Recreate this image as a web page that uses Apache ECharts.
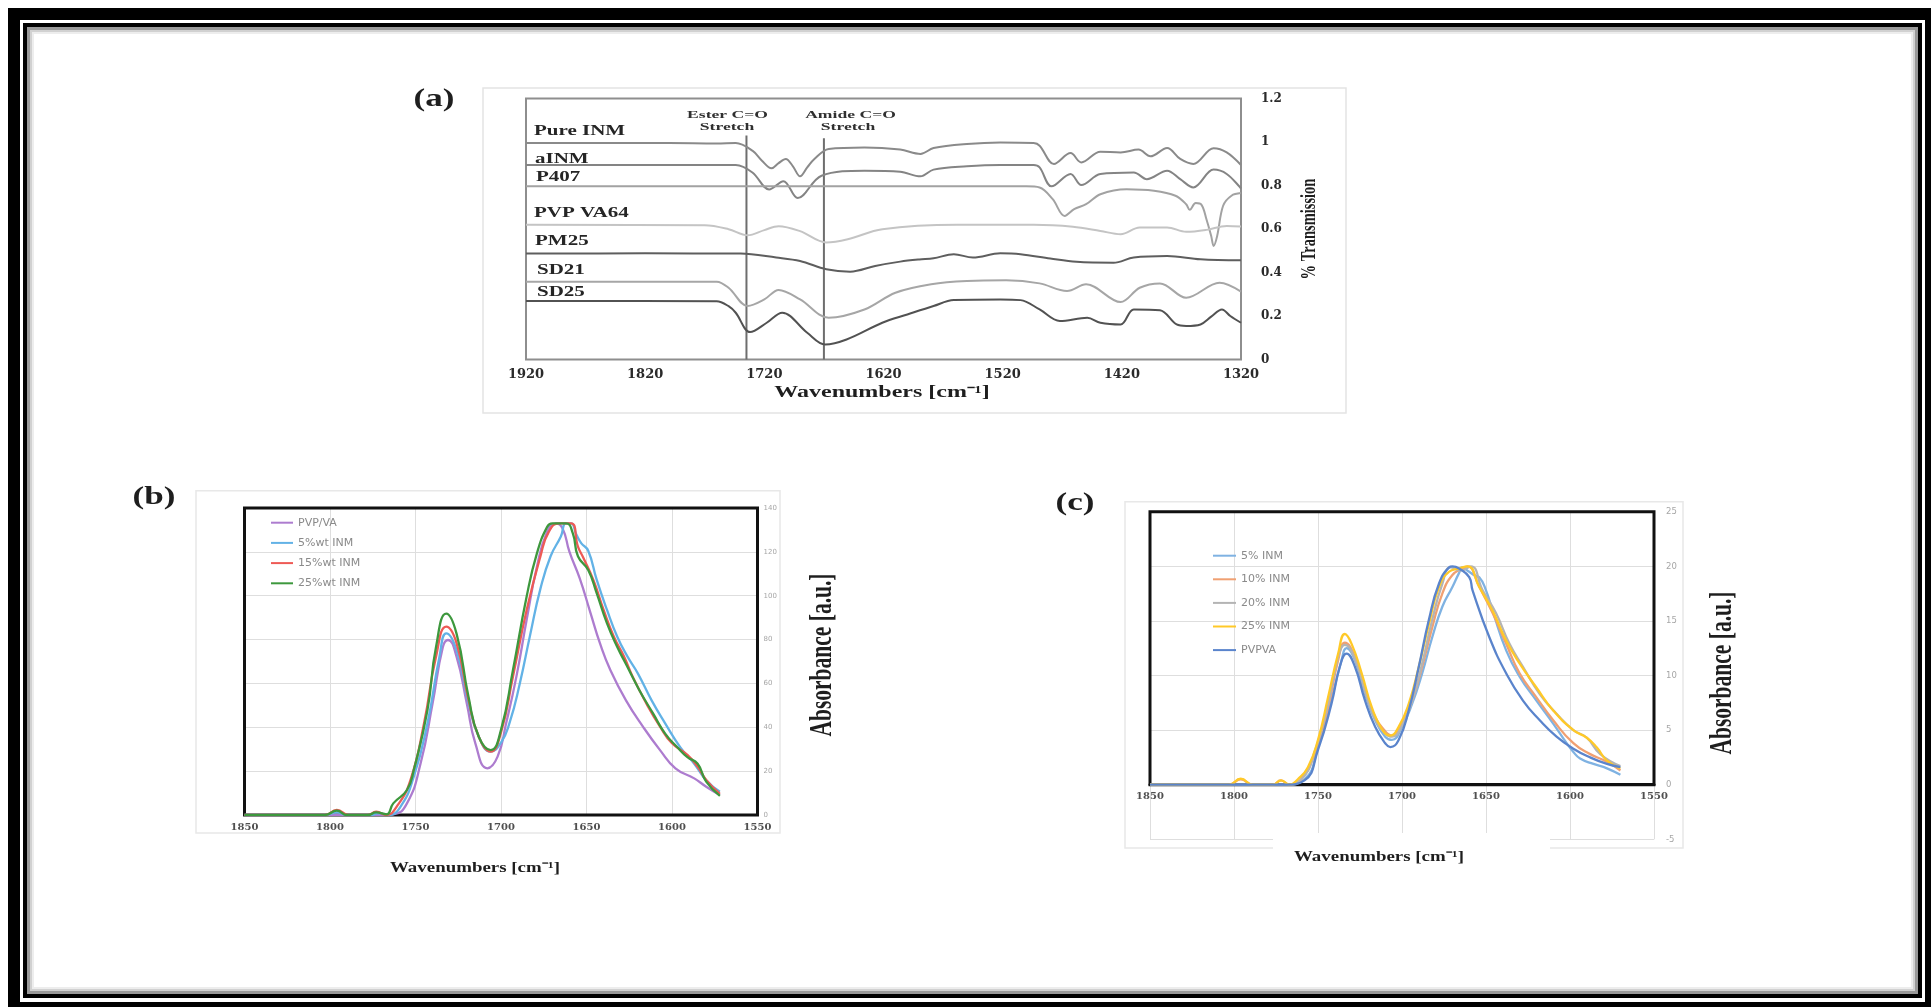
<!DOCTYPE html>
<html>
<head>
<meta charset="utf-8">
<script src="https://cdn.jsdelivr.net/npm/echarts@6/dist/echarts.min.js"></script>
<style>
  html, body { margin: 0; padding: 0; background: #ffffff; }
  #chart { width: 1931px; height: 1007px; }
</style>
</head>
<body>
<div id="chart"></div>
<script>
// ---------- (a) FTIR % transmission traces, [wavenumber cm-1, transmission] ----------
const pureINM = [[1920,0.995],[1800,0.995],[1760,0.993],[1744,0.995],[1730,0.96],[1722,0.914],[1714,0.879],[1708,0.903],[1702,0.922],[1696,0.888],[1690,0.842],[1684,0.883],[1678,0.922],[1666,0.968],[1636,0.975],[1606,0.965],[1589,0.945],[1578,0.972],[1550,0.991],[1522,0.998],[1494,0.995],[1489,0.983],[1477,0.899],[1463,0.949],[1454,0.906],[1438,0.955],[1421,0.952],[1406,0.965],[1396,0.934],[1382,0.972],[1371,0.922],[1360,0.899],[1343,0.971],[1332,0.952],[1320,0.894]];
const aINM = [[1920,0.894],[1744,0.894],[1730,0.86],[1716,0.782],[1704,0.82],[1692,0.742],[1672,0.845],[1636,0.868],[1606,0.863],[1589,0.842],[1578,0.873],[1550,0.888],[1522,0.894],[1494,0.894],[1489,0.883],[1479,0.796],[1463,0.853],[1454,0.802],[1438,0.853],[1410,0.86],[1399,0.829],[1382,0.868],[1371,0.829],[1360,0.791],[1343,0.873],[1332,0.853],[1320,0.786]];
const p407 = [[1920,0.796],[1500,0.796],[1489,0.791],[1478,0.737],[1468,0.66],[1460,0.691],[1450,0.714],[1438,0.76],[1416,0.783],[1393,0.776],[1375,0.753],[1366,0.714],[1363,0.688],[1358,0.719],[1353,0.71],[1349,0.645],[1345,0.568],[1343,0.522],[1340,0.568],[1335,0.707],[1328,0.753],[1320,0.765]];
const pvpVA64 = [[1920,0.619],[1770,0.617],[1750,0.599],[1734,0.571],[1720,0.595],[1708,0.613],[1690,0.59],[1668,0.538],[1650,0.553],[1621,0.599],[1558,0.619],[1494,0.619],[1461,0.61],[1438,0.591],[1421,0.576],[1405,0.607],[1382,0.607],[1366,0.587],[1349,0.596],[1332,0.614],[1320,0.611]];
const pm25 = [[1920,0.487],[1820,0.488],[1740,0.487],[1710,0.469],[1690,0.453],[1668,0.415],[1648,0.404],[1627,0.43],[1606,0.45],[1590,0.46],[1578,0.465],[1561,0.484],[1545,0.469],[1522,0.488],[1505,0.484],[1480,0.464],[1458,0.449],[1427,0.445],[1410,0.469],[1382,0.476],[1354,0.461],[1320,0.456]];
const sd21 = [[1920,0.358],[1760,0.358],[1750,0.33],[1734,0.246],[1720,0.276],[1708,0.32],[1690,0.276],[1666,0.192],[1636,0.23],[1610,0.307],[1580,0.346],[1550,0.361],[1517,0.364],[1489,0.35],[1466,0.315],[1450,0.346],[1421,0.264],[1405,0.33],[1388,0.35],[1366,0.284],[1338,0.353],[1320,0.312]];
const sd25 = [[1920,0.269],[1760,0.268],[1750,0.245],[1744,0.215],[1732,0.126],[1718,0.169],[1705,0.215],[1684,0.123],[1669,0.069],[1651,0.092],[1621,0.169],[1600,0.207],[1578,0.246],[1561,0.273],[1522,0.276],[1505,0.273],[1489,0.23],[1472,0.177],[1449,0.192],[1438,0.169],[1421,0.161],[1410,0.23],[1388,0.226],[1374,0.161],[1366,0.154],[1354,0.161],[1345,0.197],[1336,0.23],[1329,0.2],[1320,0.169]];
const namesA = ['Pure INM', 'aINM', 'P407', 'PVP VA64', 'PM25', 'SD21', 'SD25'];
const esterBand = [[1735, 0], [1735, 1.03]];
const amideBand = [[1670, 0], [1670, 1.017]];

// ---------- (b) absorbance, [wavenumber cm-1, absorbance] ----------
const namesB = ['PVP/VA', '5%wt INM', '15%wt INM', '25%wt INM'];
const bPVPVA = [[1850,0],[1800,0],[1770,0],[1763,0.3],[1755,5.3],[1747,23.6],[1740,50.9],[1734,76.6],[1731,79.8],[1726,72.2],[1720,50.9],[1715,32.7],[1708,21.3],[1702,26.6],[1697,41.8],[1691,63.1],[1685,89],[1679,113.2],[1673,129.2],[1668,133],[1664,130.7],[1660,120.1],[1654,108],[1648,93],[1642,78],[1636,66],[1627,52.4],[1617,40.3],[1607,29.6],[1598,21.3],[1587,16.7],[1580,12.9],[1572,9.1]];
const b5wt = [[1850,0],[1803,0],[1796,1.2],[1790,0],[1776,0],[1772,0.8],[1766,0],[1759,3.5],[1751,17.5],[1743,41.8],[1736,72.2],[1732,82.8],[1726,75.2],[1719,50.9],[1713,35.7],[1706,28.9],[1700,33],[1695,42],[1689,60],[1683,82],[1677,103],[1671,118],[1665,127],[1662,133],[1659,133],[1656,128],[1653,123.9],[1649,120.5],[1644,107.2],[1638,93.5],[1632,81.3],[1626,72.2],[1620,64.6],[1612,52.4],[1604,41.8],[1595,30.7],[1587,23.4],[1580,15.8],[1572,10.6]];
const b15wt = [[1850,0],[1803,0],[1796,2.3],[1789,0],[1778,0],[1773,1.5],[1767,0],[1761,3.8],[1753,15.8],[1745,41.8],[1738,72.2],[1732,85.9],[1726,78.4],[1719,52.4],[1713,35.7],[1706,28.9],[1700,37.7],[1693,63.1],[1685,93.5],[1677,117.8],[1672,129.2],[1666,133],[1659,133],[1655,122.4],[1652,117.5],[1646,107.2],[1640,93.5],[1634,81.3],[1628,72.2],[1623,63.1],[1615,50.9],[1607,40.3],[1600,32.7],[1591,27.4],[1585,22],[1580,16],[1572,9.6]];
const b25wt = [[1850,0],[1803,0],[1796,2],[1790,0],[1778,0],[1773,1.2],[1767,0.3],[1763,5.3],[1755,11.4],[1751,20.5],[1743,47.9],[1738,76.6],[1732,91.8],[1726,82.7],[1719,53.9],[1713,35.7],[1706,29.6],[1700,38.8],[1693,66.1],[1685,99.6],[1679,119.3],[1673,131.4],[1670,133],[1662,133],[1658,128.4],[1655,118],[1649,111.7],[1644,101.1],[1638,87.4],[1632,76.6],[1627,69],[1619,56.8],[1611,46.2],[1604,37.1],[1597,31],[1591,26.4],[1585,23.4],[1580,15.2],[1572,8.7]];

// ---------- (c) absorbance, [wavenumber cm-1, absorbance] ----------
const namesC = ['5% INM', '10% INM', '20% INM', '25% INM', 'PVPVA'];
const c5 = [[1850,0],[1800,0],[1770,0],[1758,0.5],[1750,3.4],[1742,7.8],[1736,11.4],[1733,12.5],[1728,11.4],[1722,8.3],[1716,5.9],[1710,4.4],[1706,4.1],[1700,5.3],[1694,7.4],[1688,10.2],[1682,13.5],[1676,16.3],[1670,18.1],[1666,19.4],[1664,19.9],[1661,19.6],[1656,19.1],[1654,19],[1650,17.8],[1646,15.9],[1638,12.3],[1630,9.9],[1620,7.7],[1610,5.6],[1602,3.8],[1598,3],[1594,2.4],[1586,1.9],[1578,1.5],[1570,0.9]];
const c10 = [[1850,0],[1803,0],[1796,0.5],[1789,0],[1777,0],[1772,0.4],[1767,0],[1760,0.5],[1752,2.8],[1744,7.1],[1738,11.4],[1734,13],[1728,11.7],[1722,8.6],[1716,6.2],[1710,4.9],[1706,4.5],[1700,5.6],[1694,7.7],[1688,10.8],[1682,14.4],[1676,17.5],[1670,19.2],[1664,19.8],[1661,20],[1654,18.1],[1646,15.7],[1638,12.9],[1630,10.2],[1620,8],[1610,5.9],[1598,3.8],[1588,2.8],[1578,2.1],[1570,1.3]];
const c20 = [[1850,0],[1800,0],[1770,0],[1760,0.5],[1752,3],[1744,7.4],[1738,11.7],[1734,12.8],[1728,11.5],[1722,8.5],[1716,6],[1710,4.7],[1706,4.4],[1700,5.4],[1694,7.7],[1688,11.1],[1682,15.1],[1676,18.4],[1671,19.9],[1665,19.6],[1659,20],[1652,17.8],[1644,15.7],[1636,12.9],[1628,10.8],[1618,8.3],[1608,6.5],[1598,5],[1590,4.3],[1582,2.8],[1570,1.7]];
const c25 = [[1850,0],[1803,0],[1796,0.56],[1789,0],[1777,0],[1772,0.4],[1767,0],[1762,0.5],[1756,1.6],[1750,4.1],[1744,8],[1738,12],[1734,13.8],[1730,12.9],[1724,10.2],[1718,7.1],[1712,5.1],[1707,4.5],[1702,5.3],[1696,7.4],[1690,10.8],[1684,14.7],[1678,18.1],[1672,19.5],[1666,19.8],[1661,20],[1654,18.1],[1646,15.9],[1638,13.2],[1630,11.1],[1620,8.9],[1610,6.8],[1598,5],[1590,4.3],[1584,3.4],[1578,2.2],[1570,1.5]];
const cPVPVA = [[1850,0],[1800,0],[1770,0],[1758,0.4],[1750,3.2],[1742,7.4],[1737,10.8],[1733,12],[1728,10.8],[1722,7.7],[1716,5.3],[1710,3.8],[1707,3.45],[1702,4.1],[1696,6.8],[1690,10.8],[1684,15.1],[1678,18.4],[1672,19.9],[1670,20],[1666,19.8],[1660,19],[1658,17.8],[1648,13.5],[1638,10.2],[1628,7.7],[1618,5.9],[1608,4.4],[1598,3.3],[1588,2.5],[1578,1.9],[1570,1.6]];

// ---------- chart ----------
const chart = echarts.init(document.getElementById('chart'));

const SERIF = 'Liberation Serif';
const WIDE_SERIF = 'DejaVu Serif';
const plain = v => String(v);

function traceA(name, data, color) {
  return { name, type: 'line', xAxisIndex: 0, yAxisIndex: 0, data, smooth: 0.35,
    symbol: 'none', silent: true, z: 3, lineStyle: { color, width: 2 }, itemStyle: { color } };
}
function traceBC(idx, name, data, color) {
  return { name, type: 'line', xAxisIndex: idx, yAxisIndex: idx, data, smooth: 0.5,
    symbol: 'none', silent: true, z: 3, lineStyle: { color, width: 2.3 }, itemStyle: { color } };
}
function bandLine(data) {
  return { type: 'line', xAxisIndex: 0, yAxisIndex: 0, data, symbol: 'none', silent: true, z: 2,
    lineStyle: { color: '#6e6e6e', width: 2 } };
}

const gridSplit = { show: true, lineStyle: { color: '#dedede', width: 1 } };
const noLine = { show: false };
const tickFontBC = { fontFamily: WIDE_SERIF, fontWeight: 'bold', fontSize: 10, color: '#505050', formatter: plain };

const option = {
  animation: false,
  backgroundColor: '#ffffff',
  grid: [
    // (a)
    { left: 526, top: 98.5, width: 715, height: 261, show: true, borderColor: '#8e8e8e', borderWidth: 2, backgroundColor: 'transparent' },
    // (b)
    { left: 244.5, top: 508, width: 513, height: 307 },
    // (c) full value range, -5 .. 25
    { left: 1150, top: 511.7, width: 504, height: 327.6 },
    // (c) band from 0 to 25, carries the wavenumber axis on the zero line
    { left: 1150, top: 511.7, width: 504, height: 272.7 }
  ],
  xAxis: [
    { gridIndex: 0, type: 'value', min: 1320, max: 1920, interval: 100, inverse: true,
      axisLine: noLine, axisTick: noLine, splitLine: noLine,
      axisLabel: { fontFamily: WIDE_SERIF, fontWeight: 'bold', fontSize: 13, color: '#2a2a2a', margin: 9, formatter: plain } },
    { gridIndex: 1, type: 'value', min: 1550, max: 1850, interval: 50, inverse: true,
      axisLine: noLine, axisTick: noLine, splitLine: gridSplit,
      axisLabel: Object.assign({ margin: 7 }, tickFontBC) },
    { gridIndex: 2, type: 'value', min: 1550, max: 1850, interval: 50, inverse: true,
      axisLine: noLine, axisTick: noLine, splitLine: gridSplit, axisLabel: noLine },
    { gridIndex: 3, type: 'value', min: 1550, max: 1850, interval: 50, inverse: true,
      axisLine: { show: true, lineStyle: { color: '#111', width: 3 } },
      axisTick: noLine, splitLine: noLine,
      axisLabel: Object.assign({ margin: 7 }, tickFontBC) }
  ],
  yAxis: [
    { gridIndex: 0, type: 'value', position: 'right', min: 0, max: 1.2, interval: 0.2,
      axisLine: noLine, axisTick: noLine, splitLine: noLine,
      axisLabel: { fontFamily: WIDE_SERIF, fontWeight: 'bold', fontSize: 12, color: '#2a2a2a', margin: 20, align: 'left' } },
    { gridIndex: 1, type: 'value', position: 'right', min: 0, max: 140, interval: 20,
      axisLine: noLine, axisTick: noLine, splitLine: gridSplit,
      axisLabel: { fontFamily: 'DejaVu Sans', fontSize: 7, color: '#a6a6a6', margin: 6, align: 'left' } },
    { gridIndex: 2, type: 'value', position: 'right', min: -5, max: 25, interval: 5,
      axisLine: noLine, axisTick: noLine, splitLine: gridSplit,
      axisLabel: { fontFamily: 'DejaVu Sans', fontSize: 8.5, color: '#a6a6a6', margin: 12, align: 'left' } },
    { gridIndex: 3, type: 'value', min: 0, max: 25, show: false }
  ],
  legend: [
    { data: namesB, orient: 'vertical', left: 271, top: 516.7, padding: 0, itemWidth: 22, itemHeight: 2,
      itemGap: 8.2, icon: 'rect', selectedMode: false,
      textStyle: { fontFamily: 'DejaVu Sans', fontSize: 11, lineHeight: 12, color: '#8a8a8a' } },
    { data: namesC, orient: 'vertical', left: 1213, top: 549.7, padding: 0, itemWidth: 23, itemHeight: 2,
      itemGap: 11.6, icon: 'rect', selectedMode: false,
      textStyle: { fontFamily: 'DejaVu Sans', fontSize: 11, lineHeight: 12, color: '#8a8a8a' } }
  ],
  series: [
    bandLine(esterBand),
    bandLine(amideBand),
    traceA(namesA[0], pureINM, '#8a8a8a'),
    traceA(namesA[1], aINM, '#848484'),
    traceA(namesA[2], p407, '#a2a2a2'),
    traceA(namesA[3], pvpVA64, '#c4c4c4'),
    traceA(namesA[4], pm25, '#5e5e5e'),
    traceA(namesA[5], sd21, '#a6a6a6'),
    traceA(namesA[6], sd25, '#525252'),

    traceBC(1, namesB[0], bPVPVA, '#ad7ccf'),
    traceBC(1, namesB[1], b5wt, '#62b2e6'),
    traceBC(1, namesB[2], b15wt, '#ee5a55'),
    traceBC(1, namesB[3], b25wt, '#3d983d'),

    traceBC(2, namesC[0], c5, '#7fb2e2'),
    traceBC(2, namesC[1], c10, '#f0a072'),
    traceBC(2, namesC[2], c20, '#b4b4b4'),
    traceBC(2, namesC[3], c25, '#ffc928'),
    traceBC(2, namesC[4], cPVPVA, '#5a84cc')
  ]
};
chart.setOption(option);

// ---------- frames, panel boxes and titles ----------
function txt(text, x, y, o) {
  return {
    type: 'text', x, y, z: o.z || 4, silent: true,
    scaleX: o.sx || 1, scaleY: o.sy || 1, rotation: o.rot || 0,
    style: {
      text, fill: o.color || '#1e1e1e', fontFamily: o.family || SERIF, fontWeight: o.weight || 'bold',
      fontSize: o.size, align: o.align || 'center', verticalAlign: 'middle',
      textAlign: o.align || 'center', textVerticalAlign: 'middle'
    }
  };
}
function box(x, y, w, h, stroke, lw, z) {
  return { type: 'rect', silent: true, z: z || 0, shape: { x, y, width: w, height: h },
    style: { fill: null, stroke, lineWidth: lw } };
}

const toPx = (i, pt) => chart.convertToPixel({ xAxisIndex: i, yAxisIndex: i }, pt);
const bTL = toPx(1, [1850, 140]), bBR = toPx(1, [1550, 0]);
const cTL = toPx(2, [1850, 25]), cBR = toPx(2, [1550, 0]);

const elements = [
  // page frame: heavy outer rule, thin inner rule, soft inner shadow
  box(14, 14, 1917, 994, '#000', 12, 0),
  box(25, 25, 1895, 971, '#000', 4, 0),
  box(28.5, 28.5, 1888, 964, 'rgba(0,0,0,0.40)', 3, 0),
  box(31, 31, 1883, 959, 'rgba(0,0,0,0.18)', 2, 0),
  box(33, 33, 1879, 955, 'rgba(0,0,0,0.07)', 2, 0),

  // light panel outlines
  box(483, 88, 863, 325, '#e4e4e4', 1.5, 0),
  box(196, 490.7, 584, 342.3, '#e8e8e8', 1.5, 0),
  box(1125, 501.7, 558, 346.3, '#e8e8e8', 1.5, 0),

  // black plot frames of (b) and (c)
  box(bTL[0], bTL[1], bBR[0] - bTL[0], bBR[1] - bTL[1], '#111', 3, 1),
  box(cTL[0], cTL[1], cBR[0] - cTL[0], cBR[1] - cTL[1], '#111', 3, 1),

  // panel letters
  txt('(a)', 434, 99, { size: 26, sx: 1.35 }),
  txt('(b)', 154, 497.5, { size: 26, sx: 1.35 }),
  txt('(c)', 1075, 503.7, { size: 26, sx: 1.35 }),

  // (a) trace names
  txt('Pure INM', 534, 131.7, { size: 14, sx: 1.5, align: 'left', color: '#252525' }),
  txt('aINM', 535, 159, { size: 14, sx: 1.5, align: 'left', color: '#252525' }),
  txt('P407', 536, 177.7, { size: 14, sx: 1.5, align: 'left', color: '#252525' }),
  txt('PVP VA64', 534, 213, { size: 14, sx: 1.5, align: 'left', color: '#252525' }),
  txt('PM25', 535, 241.7, { size: 14, sx: 1.5, align: 'left', color: '#252525' }),
  txt('SD21', 537, 270.7, { size: 14, sx: 1.5, align: 'left', color: '#252525' }),
  txt('SD25', 537, 292.7, { size: 14, sx: 1.5, align: 'left', color: '#252525' }),

  // (a) band annotations
  txt('Ester C=O', 727.5, 115, { size: 11, sx: 1.6, color: '#303030' }),
  txt('Stretch', 727, 126.7, { size: 11, sx: 1.6, color: '#303030' }),
  txt('Amide C=O', 850.5, 115, { size: 11, sx: 1.6, color: '#303030' }),
  txt('Stretch', 848, 126.7, { size: 11, sx: 1.6, color: '#303030' }),

  // axis titles
  txt('Wavenumbers [cm\u207B\u00B9]', 882, 393, { size: 16, sx: 1.5 }),
  txt('% Transmission', 1309, 229, { size: 14.5, sy: 1.5, rot: Math.PI / 2 }),
  txt('Wavenumbers [cm\u207B\u00B9]', 475, 868, { size: 15, sx: 1.26 }),
  txt('Absorbance [a.u.]', 823, 655, { size: 21.5, sy: 1.45, rot: Math.PI / 2 }),
  { type: 'rect', silent: true, z: 5, shape: { x: 1273, y: 833, width: 277, height: 40 }, style: { fill: '#ffffff' } },
  txt('Wavenumbers [cm\u207B\u00B9]', 1379, 857, { size: 15, sx: 1.26, z: 6 }),
  txt('Absorbance [a.u.]', 1723, 673, { size: 21.5, sy: 1.45, rot: Math.PI / 2 })
];

chart.setOption({ graphic: { elements } });
</script>
</body>
</html>
